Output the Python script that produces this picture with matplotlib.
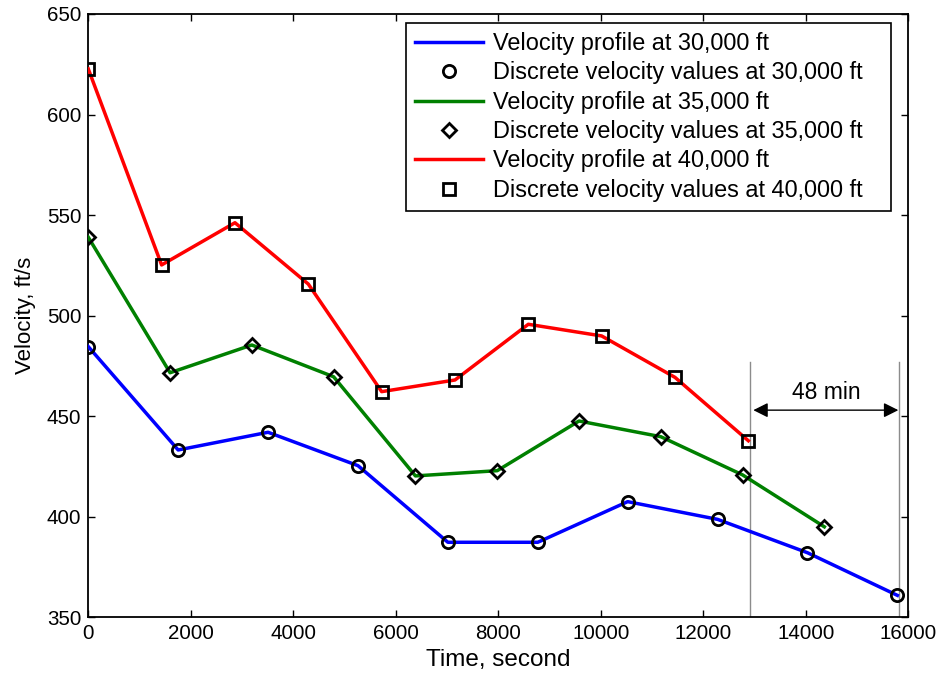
import matplotlib
matplotlib.use("Agg")
import matplotlib.pyplot as plt

plt.rcParams['font.family'] = ['Liberation Sans', 'DejaVu Sans']

# Discrete velocity values (time in s, velocity in ft/s)
t_30k = [0, 1754, 3508, 5262, 7016, 8770, 10524, 12278, 14032, 15786]
v_30k = [484.6, 433.2, 442.0, 425.4, 387.3, 387.3, 407.5, 398.7, 382.1, 360.9]

t_35k = [0, 1596, 3191, 4787, 6383, 7979, 9574, 11170, 12766, 14361]
v_35k = [539.0, 471.6, 485.4, 469.6, 420.3, 422.9, 447.6, 439.8, 420.8, 395.0]

t_40k = [0, 1431, 2862, 4293, 5724, 7155, 8585, 10016, 11447, 12878]
v_40k = [622.7, 525.2, 546.2, 515.7, 462.2, 468.0, 495.7, 489.9, 469.3, 437.8]

altitudes = ["30,000", "35,000", "40,000"]
colors = ["#0000ff", "#008000", "#ff0000"]
markers = ["o", "D", "s"]
marker_sizes = [8.8, 7.0, 8.8]

# Flight-end markers and the time difference between them
end_times = [12910, 15820]
end_line_top = 477
arrow_v = 453
arrow_span = [12975, 15805]
gap_label = "48 min"
gap_label_pos = (14390, 462)

fig = plt.figure(figsize=(9.41, 6.75), dpi=100)
ax = fig.add_axes([0.0938, 0.0855, 0.9653 - 0.0938, 0.9793 - 0.0855])

series = [(t_30k, v_30k), (t_35k, v_35k), (t_40k, v_40k)]
handles = []
labels = []
for (t, v), alt, c, m, ms in zip(series, altitudes, colors, markers, marker_sizes):
    ln, = ax.plot(t, v, color=c, lw=2.5, zorder=3)
    mk, = ax.plot(t, v, ls='none', marker=m, ms=ms, mfc='none', mec='black',
                  mew=2.0, zorder=4)
    handles += [ln, mk]
    # trailing spaces leave room on the right of the legend box
    labels += [f"Velocity profile at {alt} ft   ",
               f"Discrete velocity values at {alt} ft   "]

for x in end_times:
    ax.plot([x, x], [350, end_line_top], color='#8c8c8c', lw=1.0, zorder=2)

ax.annotate("", xy=(arrow_span[1], arrow_v), xytext=(arrow_span[0], arrow_v),
            arrowprops=dict(arrowstyle='<|-|>', color='black', lw=1.0,
                            mutation_scale=22, shrinkA=0, shrinkB=0))
ax.text(*gap_label_pos, gap_label, ha='center', va='center', fontsize=16.5)

ax.set_xlim(0, 16000)
ax.set_ylim(350, 650)
ax.set_xticks(range(0, 16001, 2000))
ax.set_yticks(range(350, 651, 50))
ax.tick_params(direction='in', length=5, width=1.0, top=True, right=True,
               labelsize=14.8, pad=5)
for sp in ax.spines.values():
    sp.set_linewidth(1.3)

ax.set_xlabel("Time, second", fontsize=17.5, labelpad=4)
ax.set_ylabel("Velocity, ft/s", fontsize=16, labelpad=8)

leg = ax.legend(handles, labels, loc='upper right',
                bbox_to_anchor=(0.979, 0.9856), borderaxespad=0,
                fontsize=16.9, frameon=True, fancybox=False, framealpha=1,
                edgecolor='black', handlelength=2.9, handletextpad=0.4,
                labelspacing=0.27, borderpad=0.4)
leg.get_frame().set_linewidth(1.2)

fig.savefig("out.png", dpi=100)
